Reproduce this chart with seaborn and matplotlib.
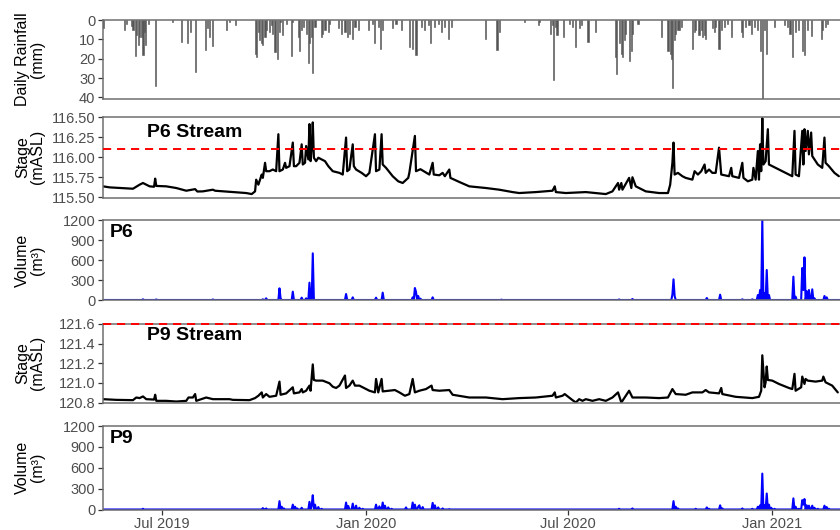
import numpy as np
import pandas as pd
import matplotlib
matplotlib.use("Agg")
import matplotlib.pyplot as plt
import matplotlib.dates as mdates
import seaborn as sns

# Record period (day 0 = first logged day)
record_start = "2019-05-09"
record_end = "2021-03-03"

# Daily rainfall (mm); days not listed had no rain
rain_day = [0, 19, 21, 26, 27, 29, 30, 32, 33, 35, 36, 37, 38, 41, 47, 63, 71, 76, 79, 83,
            92, 94, 96, 99, 111, 114, 119, 137, 138, 140, 141, 143, 144, 146, 147, 150, 152,
            153, 155, 157, 159, 160, 162, 165, 170, 171, 176, 177, 179, 181, 183, 185, 186,
            188, 189, 191, 197, 198, 200, 203, 204, 212, 215, 218, 220, 222, 225, 227, 230,
            239, 243, 245, 248, 250, 252, 261, 264, 269, 276, 279, 282, 287, 290, 293, 295,
            299, 302, 305, 308, 311, 314, 345, 355, 357, 380, 392, 393, 403, 405, 406, 408,
            409, 415, 420, 423, 426, 429, 431, 437, 444, 462, 463, 465, 467, 468, 470, 471,
            474, 476, 477, 482, 503, 509, 511, 512, 513, 515, 516, 518, 519, 521, 531, 533,
            534, 537, 539, 540, 542, 543, 549, 551, 552, 555, 557, 560, 563, 566, 575, 576,
            579, 582, 584, 587, 590, 592, 594, 596, 598, 605, 614, 617, 619, 621, 624, 627,
            630, 632, 635, 638, 647, 648, 651, 653]
rain_mm = [4, 5, 2, 3, 5, 18.5, 8, 13, 9, 9, 18, 6, 13, 2, 34, 1, 11.5, 12, 6, 27,
           15.5, 4, 9, 13.5, 5, 1, 2.5, 17.5, 19, 6, 10.5, 12, 13, 9, 5, 6, 2.5,
           7, 16.5, 20, 6, 1, 8, 2, 18.5, 1, 9, 16, 5, 3.5, 7, 22, 12,
           9, 27.5, 3.5, 9, 7, 5, 6, 2, 4, 7, 6, 9, 7, 10, 3.5, 5,
           5, 2, 12, 3.5, 15, 5, 4, 2, 5, 14, 15, 18, 3.5, 5, 2.5, 12,
           3.5, 2, 6, 3.5, 10, 3.5, 10, 15.5, 6, 1, 2.5, 1, 7, 2.5, 31, 3.5,
           8, 9, 2, 3.5, 14, 4, 2.5, 11.5, 6, 19, 28, 12, 17.5, 19, 10.5, 7,
           21, 16, 7, 2, 9, 16, 17.5, 20, 35, 10.5, 7, 5, 5, 3.5, 15, 6,
           5, 8, 5, 9, 8, 10, 4, 6, 3.5, 15, 5, 3.5, 2, 9, 6, 9,
           3.5, 2.5, 7, 3.5, 5, 16, 41.5, 5, 17.5, 3.5, 2.5, 3.5, 7, 19, 6, 5,
           16, 18, 5, 8.5, 10, 5, 3.5, 2]

# P6 stream stage (mASL)
p6_day = [0, 6, 27, 33, 36, 39, 42, 46, 47, 48, 57, 66, 75, 83, 85, 90, 99, 101, 117, 129,
          134, 137, 138, 140, 143, 144, 146, 147, 150, 153, 156, 158, 159, 162, 164, 165, 168,
          171, 172, 174, 177, 179, 180, 182, 183, 185, 186, 187, 188, 189, 190, 192, 194, 197,
          200, 203, 207, 213, 216, 219, 220, 222, 225, 226, 228, 233, 237, 240, 245, 246, 249,
          251, 252, 255, 261, 266, 270, 275, 276, 281, 282, 286, 294, 297, 298, 303, 306, 308,
          312, 313, 321, 330, 345, 357, 369, 375, 390, 405, 407, 408, 417, 435, 444, 453, 459,
          464, 465, 467, 468, 474, 476, 477, 480, 489, 501, 509, 511, 513, 514, 515, 518, 522,
          525, 531, 533, 536, 539, 542, 543, 546, 549, 552, 555, 557, 564, 566, 567, 573, 576,
          577, 581, 585, 586, 588, 590, 591, 592, 593, 594, 595, 597, 599, 600, 609, 618, 621,
          623, 624, 627, 630, 631, 632, 633, 635, 636, 638, 639, 644, 648, 650, 651, 654, 659,
          663]
p6_stage = [115.635, 115.622, 115.605, 115.656, 115.677, 115.656, 115.635, 115.630, 115.732,
            115.640, 115.635, 115.614, 115.580, 115.600, 115.570, 115.572, 115.593, 115.580,
            115.563, 115.551, 115.538, 115.572, 115.719, 115.656, 115.783, 115.741, 115.930,
            115.825, 115.825, 115.846, 115.825, 116.289, 115.825, 115.846, 115.930, 115.867,
            115.888, 116.184, 115.888, 115.888, 115.930, 116.162, 115.909, 115.930, 116.141,
            115.973, 116.416, 115.951, 116.120, 116.437, 115.994, 115.951, 115.994, 115.973,
            115.951, 115.888, 115.825, 115.804, 115.783, 116.247, 115.825, 115.846, 116.162,
            115.888, 115.846, 115.804, 115.762, 115.804, 116.289, 115.825, 115.846, 116.289,
            115.909, 115.867, 115.762, 115.698, 115.677, 115.741, 115.804, 116.268, 115.825,
            115.850, 115.783, 115.930, 115.783, 115.774, 115.804, 115.762, 115.846, 115.741,
            115.690, 115.635, 115.614, 115.593, 115.563, 115.551, 115.563, 115.580, 115.635,
            115.563, 115.551, 115.563, 115.551, 115.538, 115.572, 115.677, 115.593, 115.677,
            115.593, 115.741, 115.614, 115.749, 115.635, 115.572, 115.551, 115.551, 115.656,
            115.930, 116.184, 115.783, 115.804, 115.762, 115.741, 115.719, 115.825, 115.783,
            115.825, 115.909, 115.804, 115.846, 115.804, 115.804, 116.120, 115.783, 115.762,
            115.867, 115.762, 115.741, 115.930, 115.741, 115.698, 115.719, 115.867, 115.719,
            116.078, 115.719, 116.162, 115.825, 116.490, 115.909, 115.951, 116.352, 115.909,
            115.846, 115.783, 115.762, 116.331, 115.783, 115.762, 116.331, 115.909, 116.352,
            116.078, 116.331, 116.036, 116.310, 116.015, 115.909, 115.867, 116.247, 115.930,
            115.888, 115.804, 115.762]
p6_threshold = 116.10

# P6 daily volume (m3); days not listed are zero
p6_vol_day = [36, 48, 99, 144, 147, 159, 160, 171, 179, 183, 186, 189, 219, 225, 246, 252,
              279, 281, 282, 284, 286, 297, 359, 465, 477, 513, 514, 515, 544, 556, 576, 585,
              590, 592, 594, 596, 598, 600, 622, 624, 630, 631, 632, 634, 636, 639, 641, 650,
              652]
p6_vol = [10, 8, 8, 10, 25, 175, 25, 125, 35, 25, 260, 700, 90, 40, 35, 110,
          40, 180, 120, 60, 20, 40, 5, 8, 15, 80, 310, 60, 30, 80, 10, 10,
          75, 150, 1200, 100, 450, 75, 350, 50, 480, 150, 640, 130, 150, 160, 25, 60,
          40]

# P9 stream stage (mASL)
p9_day = [0, 12, 27, 30, 33, 36, 39, 46, 47, 48, 57, 66, 75, 77, 81, 83, 84, 93, 99, 114,
          117, 132, 137, 140, 143, 144, 147, 150, 156, 159, 160, 165, 171, 172, 177, 179, 180,
          183, 186, 187, 189, 190, 192, 198, 204, 207, 210, 213, 218, 219, 222, 225, 227, 231,
          240, 245, 246, 248, 251, 252, 263, 267, 272, 276, 279, 281, 285, 291, 296, 297, 303,
          312, 315, 330, 345, 354, 360, 375, 390, 405, 407, 408, 414, 416, 423, 426, 429, 432,
          435, 441, 447, 453, 459, 464, 467, 471, 474, 477, 489, 501, 509, 513, 516, 525, 531,
          540, 543, 546, 555, 557, 558, 570, 585, 591, 593, 594, 596, 597, 598, 599, 603, 609,
          618, 621, 623, 624, 629, 630, 632, 633, 635, 642, 648, 649, 651, 657, 662]
p9_stage = [120.834, 120.827, 120.824, 120.851, 120.845, 120.862, 120.834, 120.830, 120.879,
            120.817, 120.817, 120.810, 120.817, 120.851, 120.851, 120.886, 120.817, 120.851,
            120.834, 120.834, 120.827, 120.824, 120.845, 120.869, 120.903, 120.851, 120.886,
            120.858, 120.869, 121.013, 120.879, 120.893, 120.955, 120.893, 120.903, 120.937,
            120.903, 120.920, 120.972, 120.920, 121.188, 121.030, 121.023, 121.023, 120.996,
            120.961, 120.948, 120.972, 121.075, 120.948, 120.972, 121.023, 120.972, 120.972,
            120.920, 120.903, 121.040, 120.903, 121.040, 120.913, 120.927, 120.903, 120.869,
            120.886, 121.040, 120.903, 120.920, 120.937, 120.972, 120.927, 120.920, 120.927,
            120.879, 120.851, 120.851, 120.841, 120.834, 120.845, 120.851, 120.869, 120.903,
            120.851, 120.869, 120.886, 120.824, 120.800, 120.834, 120.817, 120.834, 120.817,
            120.834, 120.817, 120.851, 120.903, 120.800, 120.869, 120.920, 120.851, 120.851,
            120.845, 120.851, 120.937, 120.886, 120.879, 120.903, 120.903, 120.927, 120.903,
            120.893, 120.948, 120.886, 120.858, 120.845, 120.858, 120.920, 121.281, 120.955,
            121.006, 121.167, 121.030, 121.023, 120.989, 120.948, 120.937, 121.092, 120.920,
            120.955, 121.064, 120.989, 121.040, 121.023, 121.013, 121.023, 121.064, 121.006,
            120.972, 120.903]
p9_threshold = 121.60

# P9 daily volume (m3); days not listed are zero
p9_vol_day = [36, 144, 147, 159, 161, 163, 171, 173, 175, 179, 186, 188, 189, 191, 194, 197,
              219, 221, 225, 228, 231, 234, 246, 249, 252, 254, 257, 260, 273, 279, 281, 284,
              285, 288, 297, 299, 302, 306, 312, 465, 477, 514, 516, 518, 534, 544, 546, 556,
              558, 576, 585, 590, 592, 594, 596, 598, 600, 602, 605, 622, 624, 627, 630, 631,
              632, 634, 636, 639, 641, 644, 650, 652, 654]
p9_vol = [10, 20, 15, 120, 40, 15, 70, 40, 15, 25, 110, 60, 205, 70, 35, 10,
          100, 50, 85, 55, 25, 10, 70, 45, 100, 55, 30, 10, 30, 100, 70, 40,
          60, 35, 95, 60, 30, 15, 5, 10, 15, 120, 40, 15, 10, 30, 10, 60,
          15, 15, 10, 40, 60, 516, 60, 230, 70, 25, 10, 160, 40, 10, 135, 70,
          150, 60, 55, 55, 25, 10, 55, 35, 10]

# ---------------------------------------------------------------------------
t0 = pd.Timestamp(record_start)
t1 = pd.Timestamp(record_end)


def to_dates(days):
    return t0 + pd.to_timedelta(np.asarray(days, dtype=float), unit="D")


def daily_series(days, values):
    n = (t1 - t0).days + 1
    s = pd.Series(0.0, index=np.arange(n))
    s.loc[list(days)] = values
    return pd.DataFrame({"date": to_dates(s.index), "value": s.values})


rain = pd.DataFrame({"date": to_dates(rain_day), "mm": rain_mm})
p6 = pd.DataFrame({"date": to_dates(p6_day), "stage": p6_stage})
p9 = pd.DataFrame({"date": to_dates(p9_day), "stage": p9_stage})
p6v = daily_series(p6_vol_day, p6_vol)
p9v = daily_series(p9_vol_day, p9_vol)

sns.set_theme(style="white")
plt.rcParams["font.family"] = ["Liberation Sans", "DejaVu Sans"]
plt.rcParams["text.color"] = "black"

W, H = 840, 530
fig = plt.figure(figsize=(W / 100, H / 100), dpi=100)

x_left = 103
panels = [(20, 99), (117, 197.5), (220, 300), (323.5, 403), (426, 509.5)]
axes = []
for top, bot in panels:
    ax = fig.add_axes([x_left / W, 1 - bot / H, (W - x_left) / W, (bot - top) / H])
    axes.append(ax)

edge = "#6f6f6f"
tick_col = "#4d4d4d"
label_kw = dict(fontsize=11.5, color="black", linespacing=1.0)
title_kw = dict(fontsize=14, fontweight="bold", color="black", ha="left", va="baseline")
dash_kw = dict(color="#ff0000", lw=1.4, dashes=(4.2, 3.0), zorder=4, clip_on=False)

for ax in axes:
    ax.set_xlim(t0, t1)
    for side in ("top", "bottom", "left"):
        ax.spines[side].set_visible(True)
        ax.spines[side].set_color(edge)
        ax.spines[side].set_linewidth(1.1)
    ax.spines["right"].set_visible(False)
    ax.tick_params(axis="y", which="both", left=True, length=3.5, width=0.9,
                   color="#333333", labelsize=10.5, labelcolor=tick_col, pad=2)
    ax.tick_params(axis="x", which="both", bottom=False, labelbottom=False)
    ax.grid(False)

# Rainfall (inverted axis, bars hang from the top)
ax = axes[0]
ax.bar(rain["date"], rain["mm"], width=1.0, color="#555555",
       edgecolor="#555555", linewidth=0.4)
ax.set_ylim(40.8, 0)
ax.set_yticks([0, 10, 20, 30, 40])
ax.set_ylabel("Daily Rainfall\n(mm)", **label_kw)

# P6 stage
ax = axes[1]
ax.axhline(p6_threshold, **dash_kw)
sns.lineplot(data=p6, x="date", y="stage", ax=ax, color="black", lw=1.6, sort=False)
ax.set_ylim(115.495, 116.505)
ax.set_yticks([115.5, 115.75, 116.0, 116.25, 116.5])
ax.set_yticklabels(["115.50", "115.75", "116.00", "116.25", "116.50"])
ax.set_ylabel("Stage\n(mASL)", **label_kw)
ax.text(0.06, 0.75, "P6 Stream", transform=ax.transAxes, **title_kw)

# P6 volume
ax = axes[2]
sns.lineplot(data=p6v, x="date", y="value", ax=ax, color="#0000ff", lw=1.5)
ax.set_ylim(0, 1200)
ax.set_yticks([0, 300, 600, 900, 1200])
ax.set_ylabel("Volume\n(m³)", **label_kw)
ax.text(0.0095, 0.7875, "P6", transform=ax.transAxes, **title_kw)

# P9 stage
ax = axes[3]
ax.axhline(p9_threshold, **dash_kw)
sns.lineplot(data=p9, x="date", y="stage", ax=ax, color="black", lw=1.6, sort=False)
ax.set_ylim(120.795, 121.605)
ax.set_yticks([120.8, 121.0, 121.2, 121.4, 121.6])
ax.set_yticklabels(["120.8", "121.0", "121.2", "121.4", "121.6"])
ax.set_ylabel("Stage\n(mASL)", **label_kw)
ax.text(0.06, 0.797, "P9 Stream", transform=ax.transAxes, **title_kw)

# P9 volume
ax = axes[4]
sns.lineplot(data=p9v, x="date", y="value", ax=ax, color="#0000ff", lw=1.5)
ax.set_ylim(0, 1200)
ax.set_yticks([0, 300, 600, 900, 1200])
ax.set_ylabel("Volume\n(m³)", **label_kw)
ax.text(0.0095, 0.795, "P9", transform=ax.transAxes, **title_kw)
ax.xaxis.set_major_locator(mdates.MonthLocator(bymonth=[1, 7]))
ax.xaxis.set_major_formatter(mdates.DateFormatter("%b %Y"))
ax.tick_params(axis="x", bottom=True, labelbottom=True, length=3.5, width=0.9,
               color="#333333", labelsize=10.5, labelcolor=tick_col, pad=2)
ax.set_xlim(t0, t1)

for ax in axes:
    ax.set_xlabel("")
    ax.yaxis.set_label_coords(-0.079, 0.5)

fig.savefig("out.png", dpi=100)
